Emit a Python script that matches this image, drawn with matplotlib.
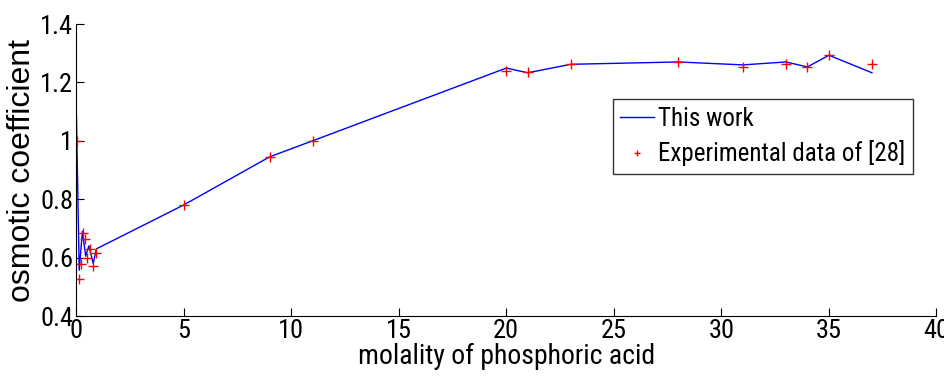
import numpy as np
import matplotlib
matplotlib.use("Agg")
import matplotlib.pyplot as plt
from matplotlib.ticker import FuncFormatter
from matplotlib import font_manager

# model curve ("This work")
m_model = [0.02, 0.15, 0.3, 0.45, 0.6, 0.8, 0.95,
           5, 9, 11, 20, 21, 23, 28, 31, 33, 34, 35, 37]
phi_model = [1.088, 0.557, 0.69, 0.605, 0.64, 0.58, 0.63,
             0.78, 0.945, 1.0, 1.249, 1.233, 1.262, 1.27, 1.26, 1.27, 1.253, 1.293, 1.233]

# experimental points [28]
m_exp = [0.05, 0.15, 0.22, 0.34, 0.43, 0.53, 0.65, 0.8, 0.93,
         5, 9, 11, 20, 21, 23, 28, 31, 33, 34, 35, 37]
phi_exp = [1.0, 0.527, 0.578, 0.684, 0.664, 0.599, 0.63, 0.571, 0.616,
           0.781, 0.946, 1.0, 1.24, 1.234, 1.262, 1.271, 1.252, 1.262, 1.252, 1.294, 1.262]

names = set(f.name for f in font_manager.fontManager.ttflist)
narrow = "Roboto Condensed" if "Roboto Condensed" in names else "Liberation Sans"
plt.rcParams['font.family'] = [narrow, 'Liberation Sans', 'DejaVu Sans']

fig = plt.figure(figsize=(9.45, 3.81), dpi=100)
ax = fig.add_axes([0.0804, 0.1706, 0.9106, 0.7664])

ax.plot(m_model, phi_model, color='blue', lw=1.0, label='This work')
ax.plot(m_exp, phi_exp, ls='none', marker='+', color='red', ms=7, mew=1.0,
        label='Experimental data of [28]')

ax.set_xlim(0, 40)
ax.set_ylim(0.4, 1.4)
ax.set_xticks(np.arange(0, 41, 5))
ax.set_yticks([0.4, 0.6, 0.8, 1.0, 1.2, 1.4])
ax.yaxis.set_major_formatter(FuncFormatter(lambda v, p: "%g" % round(v, 2)))
ax.tick_params(direction='in', length=6, labelsize=19, width=0.8, pad=2)
ax.spines['top'].set_visible(False)
ax.spines['right'].set_visible(False)

ax.set_xlabel('molality of phosphoric acid', fontsize=20, labelpad=0)
ax.set_ylabel('osmotic coefficient', fontsize=23, labelpad=2,
              family=['Liberation Sans', 'DejaVu Sans'])

leg = ax.legend(loc='upper left', bbox_to_anchor=(613/945, 1 - 99/381),
                bbox_transform=fig.transFigure, fontsize=18, frameon=True,
                fancybox=False, edgecolor='black', handlelength=1.35,
                handletextpad=0.15, borderpad=0.3, labelspacing=0.4,
                borderaxespad=0, markerscale=0.6)
leg.get_frame().set_linewidth(1.0)

fig.savefig("out.png", dpi=100)
